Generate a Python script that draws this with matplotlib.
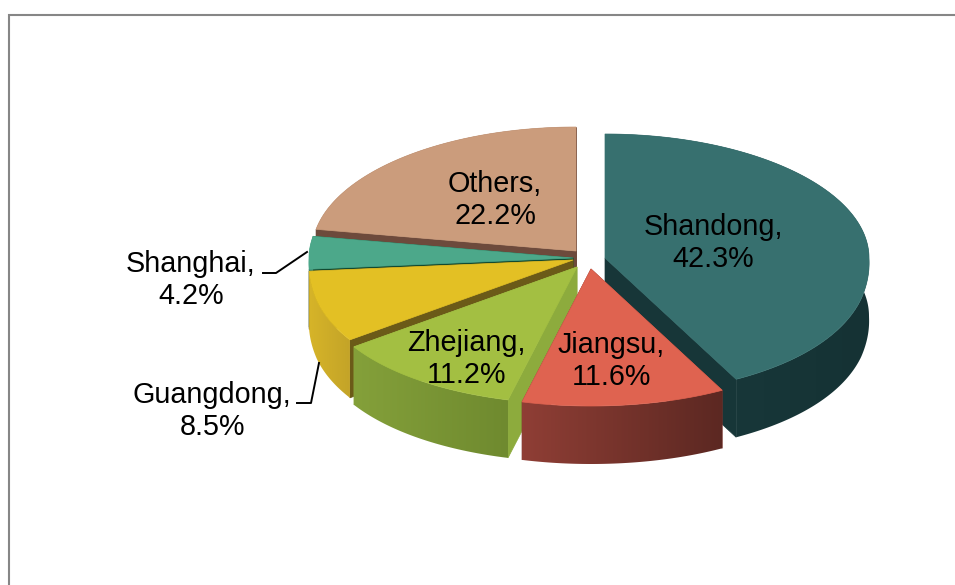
"""3D-look exploded pie of province shares, drawn in pixel coordinates."""

import matplotlib
matplotlib.use("Agg")
import matplotlib.pyplot as plt
import numpy as np
from matplotlib.colors import to_rgb
from matplotlib.patches import Polygon

plt.rcParams["font.family"] = ["Liberation Sans", "DejaVu Sans"]

# slice order is clockwise from 12 o'clock
provinces = ["Shandong", "Jiangsu", "Zhejiang", "Guangdong", "Shanghai", "Others"]
shares = [42.3, 11.6, 11.2, 8.5, 4.2, 22.2]

# layout / style
APEX = {"Shandong": (605, 258), "Jiangsu": (591, 269), "Zhejiang": (577, 267),
        "Guangdong": (573, 260), "Shanghai": (573, 258), "Others": (576, 251)}
TOP = {"Shandong": "#37706f", "Jiangsu": "#df6350", "Zhejiang": "#a3bf42",
       "Guangdong": "#e3c024", "Shanghai": "#4ca88a", "Others": "#cb9c7c"}
CUT = {"Shandong": "#173638", "Jiangsu": "#7a342c", "Zhejiang": "#8dab3d",
       "Guangdong": "#6b5a18", "Shanghai": "#124a30", "Others": "#6d4a3c"}
WALL_L = {"Shandong": "#1a3c3e", "Jiangsu": "#8f3e35", "Zhejiang": "#84a03a",
          "Guangdong": "#d6b428", "Shanghai": "#3a8a70", "Others": "#6d4a3c"}
WALL_R = {"Shandong": "#153234", "Jiangsu": "#5c2822", "Zhejiang": "#6f8a2f",
          "Guangdong": "#c4a428", "Shanghai": "#3a8a70", "Others": "#6d4a3c"}
DRAW_ORDER = ["Others", "Shanghai", "Guangdong", "Shandong", "Zhejiang", "Jiangsu"]

RX = 264
RY_BACK = 124
RY_STRETCH = 13
DEPTH = 58
FONT = 20.7


def rim(theta):
    """Offset from apex to rim; the front half is stretched for the perspective look."""
    c = np.cos(theta)
    front = np.maximum(-c, 0)
    dx = np.sin(theta) * RX * (1 + 0.08 * front ** 1.3)
    dy = -c * (RY_BACK + RY_STRETCH * np.minimum(front / 0.3, 1))
    return dx, dy


def draw_slice(ax, name, t0, t1, z):
    ax0, ay0 = APEX[name]
    ts = np.linspace(t0, t1, 240)
    dx, dy = rim(ts)
    xs, ys = ax0 + dx, ay0 + dy

    # the two cut faces
    for k in (0, -1):
        face = [(ax0, ay0), (ax0, ay0 + DEPTH), (xs[k], ys[k] + DEPTH), (xs[k], ys[k])]
        ax.add_patch(Polygon(face, closed=True, fc=CUT[name], ec=CUT[name], lw=0.5, zorder=z))

    # outer wall, horizontal gradient clipped to the band under the rim
    band = np.vstack([np.column_stack([xs, ys]),
                      np.column_stack([xs[::-1], ys[::-1] + DEPTH])])
    clip = Polygon(band, closed=True, transform=ax.transData, fc="none", ec="none")
    ax.add_patch(clip)
    f = np.linspace(0, 1, 64)[None, :, None]
    grad = np.array(to_rgb(WALL_L[name]))[None, None, :] * (1 - f) \
        + np.array(to_rgb(WALL_R[name]))[None, None, :] * f
    im = ax.imshow(grad, extent=(xs.min(), xs.max(), band[:, 1].max(), band[:, 1].min()),
                   aspect="auto", interpolation="bilinear", zorder=z + 0.1)
    im.set_clip_path(clip)

    top = np.column_stack([np.r_[ax0, xs], np.r_[ay0, ys]])
    ax.add_patch(Polygon(top, closed=True, fc=TOP[name], ec=TOP[name], lw=0.5, zorder=z + 0.2))


fig = plt.figure(figsize=(9.55, 5.85), dpi=100)
ax = fig.add_axes([0, 0, 1, 1])
ax.axis("off")

# chart frame runs off the right and bottom of the picture
ax.plot([9, 9, 955], [585, 15, 15], color="#868686", lw=1.5, solid_joinstyle="miter")

edges = np.cumsum([0] + shares) / sum(shares) * 2 * np.pi
for z, name in enumerate(DRAW_ORDER):
    i = provinces.index(name)
    draw_slice(ax, name, edges[i], edges[i + 1], 2 + z)

label_pos = {"Shandong": (713, 243), "Jiangsu": (611, 361), "Zhejiang": (466, 359),
             "Guangdong": (212, 411), "Shanghai": (191, 280), "Others": (495, 200)}
for name, val in zip(provinces, shares):
    x, y = label_pos[name]
    ax.text(x, y, f"{name},\n{val}%", ha="center", va="center", fontsize=FONT,
            linespacing=1.2, color="black", zorder=20)

# leader lines
ax.plot([263, 276, 307], [273, 273, 252], color="black", lw=1.4, zorder=20)
ax.plot([297, 311, 319], [403, 403, 363], color="black", lw=1.4, zorder=20)

ax.set_xlim(0, 955)
ax.set_ylim(585, 0)

fig.savefig("out.png", dpi=100)
